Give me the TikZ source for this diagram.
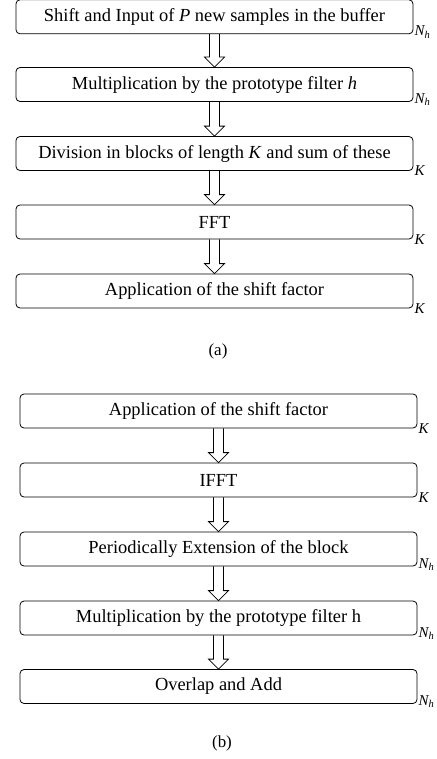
\documentclass[tikz,border=0pt]{standalone}
\usepackage{fontspec}
\setmainfont{Liberation Serif}
\usetikzlibrary{calc}

\tikzset{
	stage/.style={draw, line width=0.8bp, rounded corners=4bp, minimum width=397bp, minimum height=34bp,
		inner sep=0pt, font=\fontsize{18.5}{20}\selectfont},
	size/.style={anchor=west, inner sep=1bp, font=\fontsize{15}{16}\selectfont},
	hollow/.style={line width=0.8bp, to path={let \p1=(\tikztostart), \p2=(\tikztotarget) in
		(\x1-5bp,\y1) -- (\x1-5bp,\y2+10bp) -- (\x1-10bp,\y2+10bp) -- (\x1,\y2)
		-- (\x1+10bp,\y2+10bp) -- (\x1+5bp,\y2+10bp) -- (\x1+5bp,\y1)}}
}

\begin{document}
\begin{tikzpicture}[x=1bp,y=-1bp]
	\useasboundingbox (0,0) rectangle (437,759);

	% (a) analysis side
	\node[stage] at (214.5,16.8) (shift) {Shift and Input of \textit{P} new samples in the buffer};
	\node[stage] at (214.5,84.5) (mult) {Multiplication by the prototype filter \textit{h}};
	\node[stage] at (214.5,153.5) (divide) {Division in blocks of length \textit{K} and sum of these};
	\node[stage] at (214.5,222) (fft) {FFT};
	\node[stage] at (214.5,291) (factor) {Application of the shift factor};
	\draw[hollow] (shift.south) to (mult.north);
	\draw[hollow] (mult.south) to (divide.north);
	\draw[hollow] (divide.south) to (fft.north);
	\draw[hollow] (fft.south) to (factor.north);

	\node[size, yshift=2bp] at (shift.south east) (nshift) {\textit{N\textsubscript{h}}};
	\node[size, yshift=2bp] at (mult.south east) (nmult) {\textit{N\textsubscript{h}}};
	\node[size] at (divide.south east) (ndivide) {\textit{K}};
	\node[size] at (fft.south east) (nfft) {\textit{K}};
	\node[size] at (factor.south east) (nfactor) {\textit{K}};

	\node[font=\fontsize{17}{18}\selectfont] at (218,351) (capa) {(a)};

	% (b) synthesis side
	\node[stage] at (218.5,411) (ifactor) {Application of the shift factor};
	\node[stage] at (218.5,480) (ifft) {IFFT};
	\node[stage] at (218.5,549) (extend) {Periodically Extension of the block};
	\node[stage] at (218.5,618) (imult) {Multiplication by the prototype filter h};
	\node[stage] at (218.5,686.5) (overlap) {Overlap and Add};
	\draw[hollow] (ifactor.south) to (ifft.north);
	\draw[hollow] (ifft.south) to (extend.north);
	\draw[hollow] (extend.south) to (imult.north);
	\draw[hollow] (imult.south) to (overlap.north);

	\node[size] at (ifactor.south east) (kifactor) {\textit{K}};
	\node[size] at (ifft.south east) (kifft) {\textit{K}};
	\node[size, yshift=2bp] at (extend.south east) (nextend) {\textit{N\textsubscript{h}}};
	\node[size, yshift=2bp] at (imult.south east) (nimult) {\textit{N\textsubscript{h}}};
	\node[size, yshift=2bp] at (overlap.south east) (noverlap) {\textit{N\textsubscript{h}}};

	\node[font=\fontsize{17}{18}\selectfont] at (222,743) (capb) {(b)};
\end{tikzpicture}
\end{document}
